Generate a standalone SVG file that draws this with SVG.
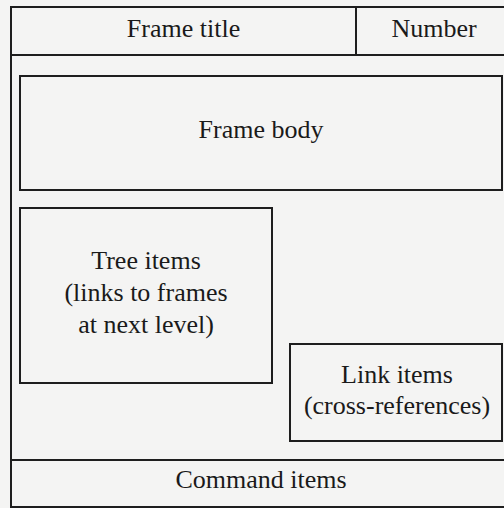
<svg xmlns="http://www.w3.org/2000/svg" width="504" height="508" viewBox="0 0 504 508">
  <style>
    .box { fill: none; stroke: #1e1e1e; stroke-width: 2; }
    .rule { stroke: #1e1e1e; stroke-width: 2; }
    .label { font-size: 26px; fill: #1a1a1a; text-anchor: middle; }
  </style>
  <rect width="504" height="508" fill="#f4f4f3"/>

  <!-- Outer frame with header and command bar -->
  <g id="frame">
    <rect class="box" x="11" y="7" width="500" height="500"/>
    <line class="rule" x1="11" y1="55" x2="511" y2="55"/>
    <line class="rule" x1="11" y1="460" x2="511" y2="460"/>
  </g>

  <g font-family="'Liberation Serif', 'DejaVu Serif', serif">
    <g id="frame-title">
      <text class="label" x="183.5" y="37">Frame title</text>
    </g>

    <g id="number">
      <line class="rule" x1="356" y1="7" x2="356" y2="55"/>
      <text class="label" x="434" y="37">Number</text>
    </g>

    <g id="frame-body">
      <rect class="box" x="20" y="76" width="482" height="114"/>
      <text class="label" x="261" y="138">Frame body</text>
    </g>

    <g id="tree-items">
      <rect class="box" x="20" y="208" width="252" height="175"/>
      <text class="label" x="146" y="269">Tree items</text>
      <text class="label" x="146" y="301">(links to frames</text>
      <text class="label" x="146" y="333">at next level)</text>
    </g>

    <g id="link-items">
      <rect class="box" x="290" y="344" width="212" height="97"/>
      <text class="label" x="397" y="383">Link items</text>
      <text class="label" x="397" y="414">(cross-references)</text>
    </g>

    <g id="command-items">
      <text class="label" x="261" y="488">Command items</text>
    </g>
  </g>

  <g id="connectors"/>
</svg>
